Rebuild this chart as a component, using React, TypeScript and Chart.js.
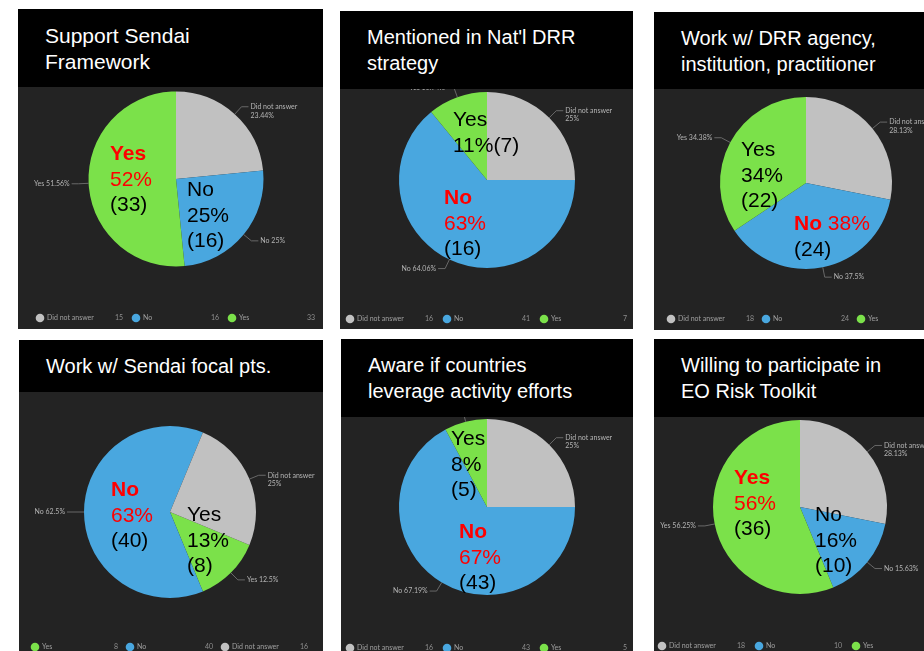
import React, { useEffect, useRef } from 'react';
import { Chart, registerables } from 'chart.js';

Chart.register(...registerables);

// ---------- data ----------
const answersA = ['Did not answer', 'No', 'Yes'];
const answersB = ['Yes', 'No', 'Did not answer'];

const supportSendai = [15, 16, 33];
const mentionedStrategy = [16, 41, 7];
const workDrrAgency = [18, 24, 22];
const workFocalPts = [8, 40, 16];
const awareLeverage = [16, 43, 5];
const willingToolkit = [18, 10, 36];

const titles = [
  ['Support Sendai', 'Framework'],
  ["Mentioned in Nat'l DRR", 'strategy'],
  ['Work w/ DRR agency,', 'institution, practitioner'],
  ['Work w/ Sendai focal pts.'],
  ['Aware if countries', 'leverage activity efforts'],
  ['Willing to participate in', 'EO Risk Toolkit'],
];

type Seg = { t: string; s: 'rb' | 'r' | 'k' };
const RB = (t: string): Seg => ({ t, s: 'rb' });
const R = (t: string): Seg => ({ t, s: 'r' });
const K = (t: string): Seg => ({ t, s: 'k' });

const callouts1 = [[[RB('Yes')], [R('52%')], [K('(33)')]], [[K('No')], [K('25%')], [K('(16)')]]];
const callouts2 = [[[K('Yes')], [K('11%(7)')]], [[RB('No')], [R('63%')], [K('(16)')]]];
const callouts3 = [[[K('Yes')], [K('34%')], [K('(22)')]], [[RB('No'), R(' 38%')], [K('(24)')]]];
const callouts4 = [[[RB('No')], [R('63%')], [K('(40)')]], [[K('Yes')], [K('13%')], [K('(8)')]]];
const callouts5 = [[[K('Yes')], [K('8%')], [K('(5)')]], [[RB('No')], [R('67%')], [K('(43)')]]];
const callouts6 = [[[RB('Yes')], [R('56%')], [K('(36)')]], [[K('No')], [K('16%')], [K('(10)')]]];

// ---------- styles / layout ----------
const COLORS: Record<string, string> = {
  'Did not answer': '#c1c1c1',
  No: '#49a7df',
  Yes: '#7be14a',
};
const PANEL_BG = '#232323';
const SMALL_FONT = '7px Lato, "DejaVu Sans", sans-serif';

const panels = [
  { labels: answersA, values: supportSendai, callouts: callouts1, x: 18, y: 9, w: 305, h: 320, titleH: 78, titleSize: 21, cx: 158, cy: 170, r: 87.5, rot: 0, legX: 22, legStep: 96, legY: 309, callPos: [[93, 144], [170, 180]] },
  { labels: answersA, values: mentionedStrategy, callouts: callouts2, x: 340, y: 11, w: 293, h: 318, titleH: 78, titleSize: 20, cx: 147, cy: 169, r: 88, rot: 0, legX: 10, legStep: 97, legY: 308, callPos: [[114, 108], [105, 186]] },
  { labels: answersA, values: workDrrAgency, callouts: callouts3, x: 654, y: 12, w: 270, h: 318, titleH: 77, titleSize: 20, cx: 152, cy: 171, r: 86, rot: 0, legX: 17, legStep: 95, legY: 307, callPos: [[88, 137], [141, 211]] },
  { labels: answersB, values: workFocalPts, callouts: callouts4, x: 19, y: 340, w: 304, h: 311, titleH: 52, titleSize: 20, cx: 151, cy: 172, r: 86, rot: 112.5, legX: 16, legStep: 95, legY: 307, callPos: [[93, 149], [169, 174]] },
  { labels: answersA, values: awareLeverage, callouts: callouts5, x: 341, y: 339, w: 292, h: 312, titleH: 78, titleSize: 20, cx: 146, cy: 168, r: 88, rot: 0, legX: 9, legStep: 97, legY: 309, callPos: [[111, 99], [119, 192]] },
  { labels: answersA, values: willingToolkit, callouts: callouts6, x: 654, y: 339, w: 270, h: 312, titleH: 78, titleSize: 20, cx: 146, cy: 168, r: 87, rot: 0, legX: 8, legStep: 97, legY: 307, callPos: [[81, 138], [162, 175]] },
];

const fmtPct = (v: number, total: number) => parseFloat(((v / total) * 100).toFixed(2)).toString() + '%';

const decorPlugin = {
  id: 'pieDecor',
  afterDatasetsDraw(chart: any, _args: any, opts: any) {
    const ctx = chart.ctx as CanvasRenderingContext2D;
    const meta = chart.getDatasetMeta(0);
    const labels: string[] = chart.data.labels;
    const values: number[] = chart.data.datasets[0].data;
    const colors: string[] = chart.data.datasets[0].backgroundColor;
    const total = values.reduce((a, b) => a + b, 0);
    ctx.save();
    ctx.font = SMALL_FONT;
    ctx.textBaseline = 'middle';
    // leader labels
    meta.data.forEach((arc: any, i: number) => {
      const { x, y, startAngle, endAngle, outerRadius } = arc.getProps(['x', 'y', 'startAngle', 'endAngle', 'outerRadius'], true);
      const a = (startAngle + endAngle) / 2;
      const ex = x + Math.cos(a) * outerRadius;
      const ey = y + Math.sin(a) * outerRadius;
      const bx = x + Math.cos(a) * (outerRadius + 10);
      const by = y + Math.sin(a) * (outerRadius + 10);
      const dir = Math.cos(a) >= 0 ? 1 : -1;
      const lx = bx + dir * 7;
      ctx.strokeStyle = '#7a7a7a';
      ctx.lineWidth = 0.8;
      ctx.beginPath();
      ctx.moveTo(ex, ey);
      ctx.lineTo(bx, by);
      ctx.lineTo(lx, by);
      ctx.stroke();
      ctx.fillStyle = '#b4b4b4';
      ctx.textAlign = dir > 0 ? 'left' : 'right';
      const pct = fmtPct(values[i], total);
      const tx = lx + dir * 2;
      if (labels[i].length > 4) {
        ctx.fillText(labels[i], tx, by);
        ctx.fillText(pct, tx, by + 8.5);
      } else {
        ctx.fillText(labels[i] + ' ' + pct, tx, by);
      }
    });
    // legend
    labels.forEach((lab, i) => {
      const cx = opts.legX + i * opts.legStep;
      ctx.fillStyle = colors[i];
      ctx.beginPath();
      ctx.arc(cx, opts.legY, 4.3, 0, Math.PI * 2);
      ctx.fill();
      ctx.fillStyle = '#a0a0a0';
      ctx.textAlign = 'left';
      ctx.fillText(lab, cx + 7, opts.legY);
      ctx.fillStyle = '#8e8e8e';
      ctx.textAlign = 'right';
      ctx.fillText(String(values[i]), cx + 83, opts.legY);
    });
    ctx.restore();
  },
};

function PiePanel({ p, title }: { p: any; title: string[] }) {
  const ref = useRef<HTMLCanvasElement>(null);
  useEffect(() => {
    const chart = new Chart(ref.current as HTMLCanvasElement, {
      type: 'pie',
      data: {
        labels: p.labels,
        datasets: [
          {
            data: p.values,
            backgroundColor: p.labels.map((l: string) => COLORS[l]),
            borderWidth: 0,
          },
        ],
      },
      options: {
        animation: false,
        responsive: false,
        maintainAspectRatio: false,
        events: [],
        rotation: p.rot,
        layout: {
          padding: {
            left: p.cx - p.r,
            top: p.cy - p.r,
            right: p.w - p.cx - p.r,
            bottom: p.h - p.cy - p.r,
          },
        },
        plugins: {
          legend: { display: false },
          tooltip: { enabled: false },
          pieDecor: { legX: p.legX, legStep: p.legStep, legY: p.legY },
        } as any,
      },
      plugins: [decorPlugin as any],
    });
    return () => chart.destroy();
  }, []);

  const segStyle = (s: string): React.CSSProperties => ({
    color: s === 'k' ? '#000' : '#ff0000',
    fontWeight: s === 'rb' ? 'bold' : 'normal',
  });

  return (
    <div
      style={{
        position: 'absolute',
        left: p.x,
        top: p.y,
        width: p.w,
        height: p.h,
        background: PANEL_BG,
        overflow: 'hidden',
      }}
    >
      <canvas ref={ref} width={p.w} height={p.h} style={{ position: 'absolute', left: 0, top: 0, width: p.w, height: p.h }} />
      <div
        style={{
          position: 'absolute',
          left: 0,
          top: 0,
          width: p.w,
          height: p.titleH,
          background: '#000',
          color: '#fff',
          fontFamily: '"Liberation Sans", Arial, sans-serif',
          fontSize: p.titleSize,
          lineHeight: '25.5px',
          paddingLeft: 27,
          paddingTop: 14,
          boxSizing: 'border-box',
          whiteSpace: 'nowrap',
        }}
      >
        {title.map((t, i) => (
          <div key={i}>{t}</div>
        ))}
      </div>
      {p.callouts.map((lines: Seg[][], ci: number) => (
        <div
          key={ci}
          style={{
            position: 'absolute',
            left: p.callPos[ci][0] - 1,
            top: p.callPos[ci][1] - 12.75,
            fontFamily: '"Liberation Sans", Arial, sans-serif',
            fontSize: 21,
            lineHeight: '25.5px',
            whiteSpace: 'pre',
          }}
        >
          {lines.map((segs, li) => (
            <div key={li}>
              {segs.map((sg, si) => (
                <span key={si} style={segStyle(sg.s)}>
                  {sg.t}
                </span>
              ))}
            </div>
          ))}
        </div>
      ))}
    </div>
  );
}

export default function App() {
  return (
    <div style={{ position: 'absolute', left: 0, top: 0, width: 924, height: 651, overflow: 'hidden', background: '#fff' }}>
      {panels.map((p, i) => (
        <PiePanel key={i} p={p} title={titles[i]} />
      ))}
    </div>
  );
}
